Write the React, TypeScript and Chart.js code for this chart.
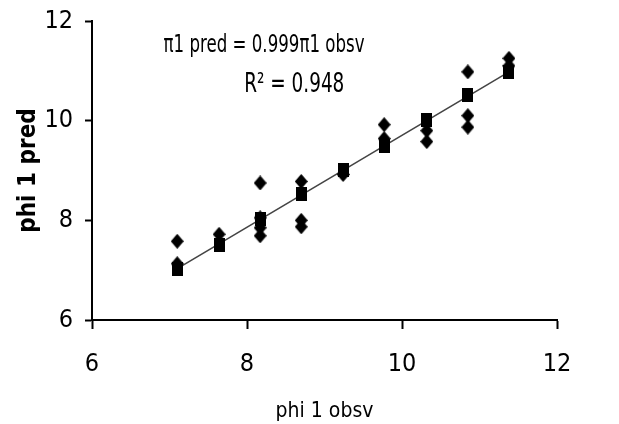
import { useEffect, useRef } from "react";
import { Chart, registerables } from "chart.js";

Chart.register(...registerables);

// ---- data ----
const squareX = [7.1, 7.64, 8.17, 8.7, 9.24, 9.77, 10.32, 10.85, 11.38];
const squareY = [7.03, 7.5, 8.02, 8.52, 9.02, 9.5, 10.02, 10.51, 10.98];
const diamondX = [7.1, 7.1, 7.64, 8.17, 8.17, 8.17, 8.17, 8.7, 8.7, 8.7, 9.24, 9.77, 9.77, 10.32, 10.32, 10.85, 10.85, 10.85, 11.38, 11.38];
const diamondY = [7.58, 7.13, 7.72, 8.75, 8.05, 7.85, 7.69, 8.78, 8.0, 7.87, 8.92, 9.92, 9.64, 9.8, 9.58, 10.98, 10.1, 9.87, 11.25, 11.1];
const trendX = [7.1, 11.38];
const trendY = [7.03, 10.98];
const axisTicks = [6, 8, 10, 12];
const xTitle = "phi 1 obsv";
const yTitle = "phi 1 pred";
const eqText = "π1 pred = 0.999π1 obsv";
const r2Text = "R² = 0.948";
const eqPos = [8.22, 11.5];
const r2Pos = [8.61, 10.72];

const FONT = "'Liberation Sans Narrow', 'DejaVu Sans Condensed', 'Open Sans', sans-serif";

function makeDiamond(w: number, h: number) {
  const c = document.createElement("canvas");
  c.width = w;
  c.height = h;
  const g = c.getContext("2d")!;
  g.fillStyle = "#000";
  g.beginPath();
  g.moveTo(w / 2, 0);
  g.lineTo(w, h / 2);
  g.lineTo(w / 2, h);
  g.lineTo(0, h / 2);
  g.closePath();
  g.fill();
  return c;
}

function makeSquare(w: number, h: number) {
  const c = document.createElement("canvas");
  c.width = w;
  c.height = h;
  const g = c.getContext("2d")!;
  g.fillStyle = "#000";
  g.fillRect(0, 0, w, h);
  return c;
}

function stretchedText(ctx: CanvasRenderingContext2D, text: string, px: number, py: number, size: number) {
  ctx.save();
  ctx.translate(px, py);
  ctx.scale(1, 1.3);
  ctx.font = `${size}px ${FONT}`;
  ctx.fillText(text, 0, 0);
  ctx.restore();
}

const annotationPlugin = {
  id: "eqAnnotation",
  afterDatasetsDraw(chart: any) {
    const { ctx, scales } = chart;
    const x = scales.x;
    const y = scales.y;
    ctx.save();
    ctx.fillStyle = "#000";
    ctx.textAlign = "center";
    ctx.textBaseline = "middle";
    stretchedText(ctx, eqText, x.getPixelForValue(eqPos[0]), y.getPixelForValue(eqPos[1]), 18.5);
    stretchedText(ctx, r2Text, x.getPixelForValue(r2Pos[0]), y.getPixelForValue(r2Pos[1]), 20.5);
    ctx.restore();
  },
};

export default function App() {
  const ref = useRef<HTMLCanvasElement | null>(null);

  useEffect(() => {
    if (!ref.current) return;
    const diamond = makeDiamond(13, 15);
    const square = makeSquare(11, 14);
    const chart = new Chart(ref.current, {
      type: "scatter",
      data: {
        datasets: [
          {
            label: "square",
            data: squareX.map((v, i) => ({ x: v, y: squareY[i] })),
            pointStyle: square as any,
            backgroundColor: "#000",
            borderColor: "#000",
            order: 0,
          },
          {
            label: "diamond",
            data: diamondX.map((v, i) => ({ x: v, y: diamondY[i] })),
            pointStyle: diamond as any,
            backgroundColor: "#000",
            borderColor: "#000",
            order: 1,
          },
          {
            type: "line",
            label: "trend",
            data: trendX.map((v, i) => ({ x: v, y: trendY[i] })),
            borderColor: "#444",
            borderWidth: 1.6,
            pointRadius: 0,
            showLine: true,
            fill: false,
            order: 2,
          } as any,
        ],
      },
      options: {
        animation: false,
        responsive: false,
        events: [],
        layout: { padding: { top: 21, right: 62, left: 0, bottom: 0 } },
        plugins: {
          legend: { display: false },
          tooltip: { enabled: false },
        },
        scales: {
          x: {
            type: "linear",
            min: 6,
            max: 12,
            afterBuildTicks: (s: any) => {
              s.ticks = axisTicks.map((v) => ({ value: v }));
            },
            afterFit: (s: any) => {
              s.height = 104;
              s.paddingLeft = 0;
              s.paddingRight = 0;
            },
            ticks: {
              color: "#000",
              font: { family: FONT, size: 25 },
              padding: 20,
              maxRotation: 0,
            },
            grid: {
              display: true,
              drawOnChartArea: false,
              drawTicks: true,
              tickLength: 9,
              tickColor: "#000",
              tickWidth: 2,
            },
            border: { display: true, color: "#000", width: 2 },
            title: {
              display: true,
              text: xTitle,
              color: "#000",
              font: { family: FONT, size: 21 },
              padding: { top: 0, bottom: 0 },
            },
          },
          y: {
            type: "linear",
            min: 6,
            max: 12,
            afterBuildTicks: (s: any) => {
              s.ticks = axisTicks.map((v) => ({ value: v }));
            },
            afterFit: (s: any) => {
              s.width = 92;
              s.paddingTop = 0;
              s.paddingBottom = 0;
            },
            ticks: {
              color: "#000",
              font: { family: FONT, size: 25 },
              padding: 12,
            },
            grid: {
              display: true,
              drawOnChartArea: false,
              drawTicks: true,
              tickLength: 7,
              tickColor: "#000",
              tickWidth: 2,
            },
            border: { display: true, color: "#000", width: 2 },
            title: {
              display: true,
              text: yTitle,
              color: "#000",
              font: { family: FONT, size: 24, weight: "bold" },
              padding: { top: 14, bottom: 0 },
            },
          },
        },
      },
      plugins: [annotationPlugin],
    });
    return () => chart.destroy();
  }, []);

  return (
    <div style={{ position: "absolute", left: 0, top: 0, width: 619, height: 424, background: "#fff" }}>
      <canvas ref={ref} width={619} height={424} style={{ display: "block" }} />
    </div>
  );
}
